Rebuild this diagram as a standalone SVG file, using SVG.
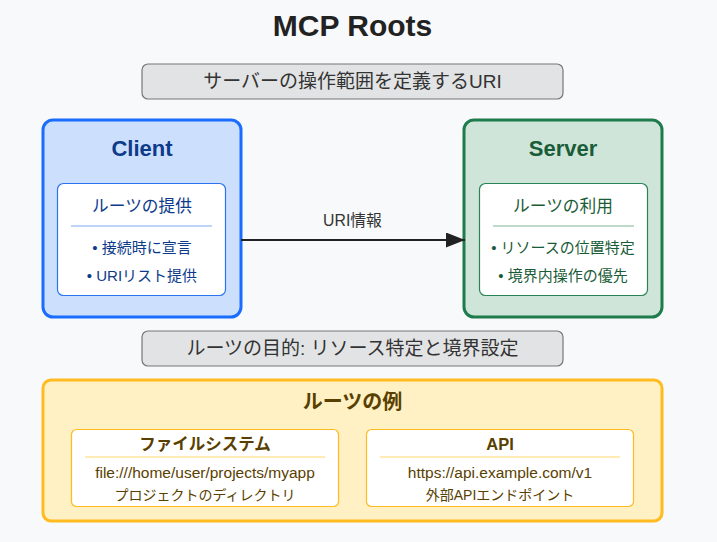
<svg xmlns="http://www.w3.org/2000/svg" width="717" height="542" viewBox="0 0 717 542">
<defs>
<style>
text{font-family:"Liberation Sans","Noto Sans CJK JP",Arial,sans-serif;text-anchor:middle}
.title{font-size:30px;font-weight:bold;fill:#222}
.note{fill:#e2e3e5;stroke:#777;stroke-width:1.2}
.notet{font-size:19px;fill:#333}
.inner{fill:#fff}
.ct{fill:#0d3b8a}
.st{fill:#1a5c38}
.yt{fill:#5a4000}
.h1{font-size:22px;font-weight:bold}
.h2{font-size:16.7px}
.b{font-size:15px}
</style>
<marker id="arr" markerWidth="19" markerHeight="15" refX="19" refY="7.5" orient="auto" markerUnits="userSpaceOnUse" viewBox="0 0 19 15">
<path d="M0,0 L19,7.5 L0,15 z" fill="#222"/>
</marker>
</defs>
<rect width="717" height="542" fill="#f8f9fa"/>
<text class="title" x="352.5" y="36">MCP Roots</text>
<g id="note1">
<rect class="note" x="142" y="64" width="421" height="35" rx="6"/>
<text class="notet" x="352.5" y="88">サーバーの操作範囲を定義するURI</text>
</g>
<g id="client">
<rect x="43" y="120" width="198" height="197" rx="10" fill="#cce0fd" stroke="#1a6cff" stroke-width="3"/>
<text class="h1 ct" x="142" y="156">Client</text>
<rect class="inner" x="57.5" y="183.5" width="168" height="112" rx="6" stroke="#2a74f0" stroke-width="1.2"/>
<text class="h2 ct" x="142" y="212">ルーツの提供</text>
<line x1="71" y1="226" x2="212" y2="226" stroke="#a9c7f5" stroke-width="1.5"/>
<text class="b ct" x="142" y="253">• 接続時に宣言</text>
<text class="b ct" x="142" y="281">• URIリスト提供</text>
</g>
<g id="server">
<rect x="464" y="120" width="198" height="197" rx="10" fill="#cfe5d9" stroke="#1e7b4b" stroke-width="3"/>
<text class="h1 st" x="563" y="156">Server</text>
<rect class="inner" x="479.5" y="183.5" width="168" height="112" rx="6" stroke="#2a8356" stroke-width="1.2"/>
<text class="h2 st" x="563" y="212">ルーツの利用</text>
<line x1="493" y1="226" x2="634" y2="226" stroke="#a9cfb9" stroke-width="1.5"/>
<text class="b st" x="563" y="253">• リソースの位置特定</text>
<text class="b st" x="563" y="281">• 境界内操作の優先</text>
</g>
<g id="connectors">
<line x1="241" y1="240" x2="465" y2="240" stroke="#222" stroke-width="2" marker-end="url(#arr)"/>
<text x="352.5" y="226" font-size="15.8" fill="#333">URI情報</text>
</g>
<g id="note2">
<rect class="note" x="142" y="331" width="421" height="35" rx="6"/>
<text class="notet" x="352.5" y="355">ルーツの目的: リソース特定と境界設定</text>
</g>
<g id="examples">
<rect x="43" y="380" width="619" height="141" rx="8" fill="#fff1c4" stroke="#ffbb1f" stroke-width="3"/>
<text class="yt" x="352.5" y="409" font-size="20" font-weight="bold">ルーツの例</text>
</g>
<g id="filesystem">
<rect class="inner" x="71.5" y="429.5" width="267" height="77" rx="5" stroke="#ffbb1f" stroke-width="1.2"/>
<text class="yt" x="205" y="450" font-size="16.5" font-weight="bold">ファイルシステム</text>
<line x1="85" y1="457" x2="325" y2="457" stroke="#ffe49a" stroke-width="1.5"/>
<text class="yt" x="205" y="478" font-size="15.5">file:///home/user/projects/myapp</text>
<text class="yt" x="205" y="500" font-size="14">プロジェクトのディレクトリ</text>
</g>
<g id="api">
<rect class="inner" x="366.5" y="429.5" width="267" height="77" rx="5" stroke="#ffbb1f" stroke-width="1.2"/>
<text class="yt" x="500" y="450" font-size="16.5" font-weight="bold">API</text>
<line x1="380" y1="457" x2="620" y2="457" stroke="#ffe49a" stroke-width="1.5"/>
<text class="yt" x="500" y="478" font-size="15.5">https://api.example.com/v1</text>
<text class="yt" x="500" y="500" font-size="14">外部APIエンドポイント</text>
</g>
</svg>
